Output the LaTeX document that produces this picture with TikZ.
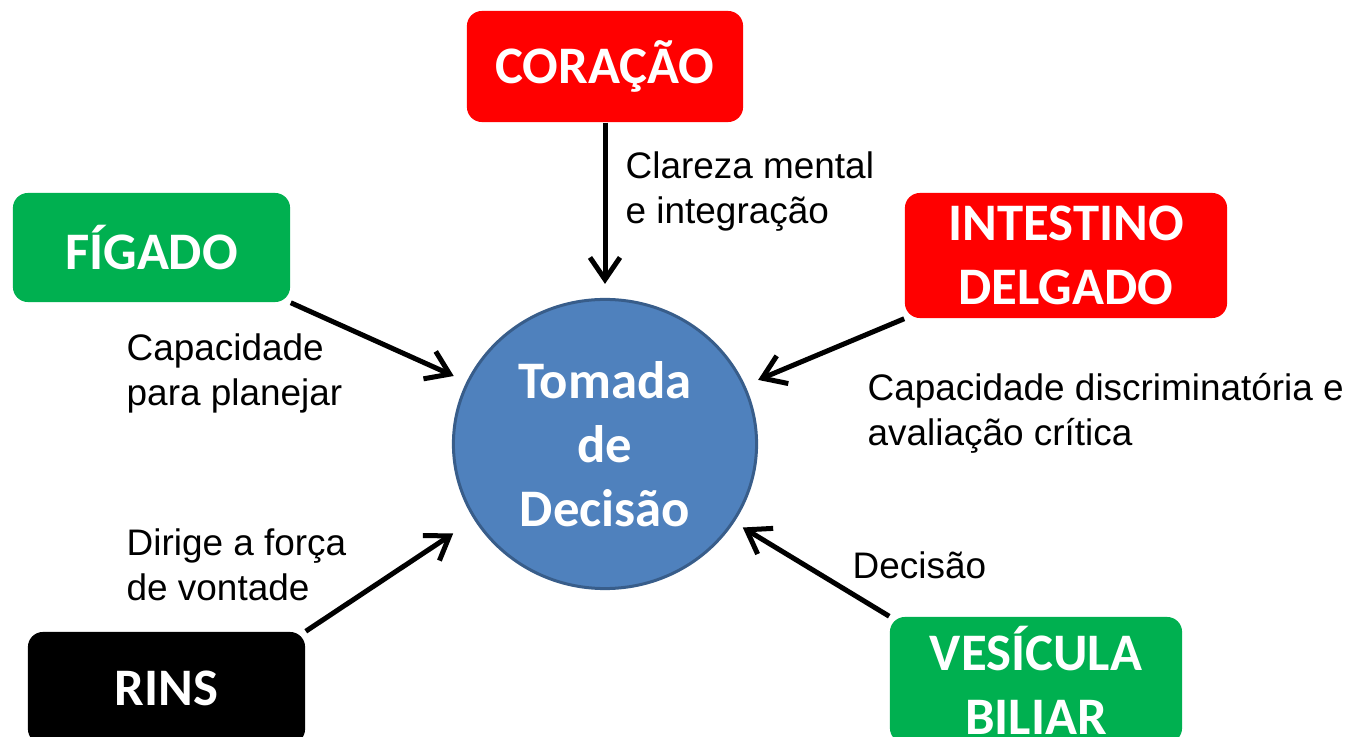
\documentclass[tikz,border=0pt]{standalone}
\usepackage{fontspec}
\setmainfont{Liberation Sans}
\newfontfamily\caixafont{Carlito}
\usepackage{tikz}
\usetikzlibrary{shapes.geometric, arrows.meta, positioning}

\definecolor{vermelho}{RGB}{255,0,0}
\definecolor{verde}{RGB}{0,176,80}
\definecolor{azul}{RGB}{79,129,189}
\definecolor{azulborda}{RGB}{56,93,138}

\begin{document}
\begin{tikzpicture}[
    x=0.01cm, y=-0.01cm,
    base/.style={rectangle, rounded corners=0.15cm, align=center, text=white, inner sep=0pt, font=\caixafont\bfseries\fontsize{15}{18.2}\selectfont},
    rotulo/.style={align=left, anchor=base west, inner sep=0pt, font=\fontsize{10.5}{13}\selectfont},
    arrow/.style={-{Straight Barb[length=0.22cm, width=0.3cm]}, line width=0.05cm, shorten >=0.14cm}
]
\clip (0,0) rectangle (1351,737);

% Centro
\node[ellipse, draw=azulborda, line width=0.03cm, fill=azul, inner sep=0pt, minimum width=3.03cm, minimum height=2.89cm, align=center, text=white, font=\caixafont\bfseries\fontsize{15}{18.2}\selectfont] (decisao) at (605,444) {Tomada\\de\\Decisão};

% Orgaos
\node[base, fill=vermelho, minimum width=2.76cm, minimum height=1.11cm] (coracao) at (605,66.5) {CORAÇÃO};
\node[base, fill=verde, minimum width=2.77cm, minimum height=1.09cm] (figado) at (151.5,247.5) {FÍGADO};
\node[base, fill=vermelho, minimum width=3.22cm, minimum height=1.25cm] (intestino) at (1066,255.5) {INTESTINO\\DELGADO};
\node[base, fill=black, minimum width=2.77cm, minimum height=1.12cm] (rins) at (166.5,688) {RINS};
\node[base, fill=verde, minimum width=2.92cm, minimum height=1.26cm] (vesicula) at (1036,680) {VESÍCULA\\BILIAR};

% Rotulos
\node[rotulo] (clareza) at (625,224) {Clareza mental\\e integração};
\node[rotulo] (planejar) at (126,406) {Capacidade\\para planejar};
\node[rotulo] (discrim) at (867,446) {Capacidade discriminatória e\\avaliação crítica};
\node[rotulo] (vontade) at (126,601) {Dirige a força\\de vontade};
\node[rotulo] (decide) at (852,579) {Decisão};

% Setas
\draw[arrow] (coracao) -- (decisao);
\draw[arrow] (figado.south east) -- (decisao);
\draw[arrow] (intestino.south west) -- (decisao);
\draw[arrow, shorten >=0.25cm] (rins.north east) -- (decisao.210);
\draw[arrow, shorten >=0.1cm] (vesicula.north west) -- (decisao);

\end{tikzpicture}
\end{document}
